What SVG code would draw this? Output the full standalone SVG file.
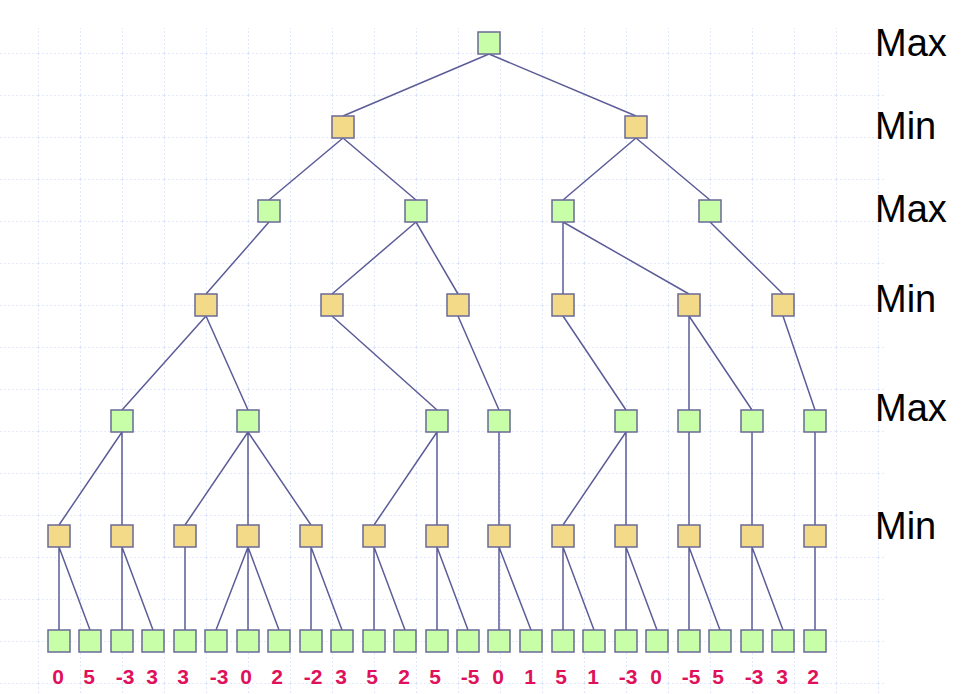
<svg xmlns="http://www.w3.org/2000/svg" width="966" height="694" viewBox="0 0 966 694">
<defs>
<pattern id="grid" x="38" y="11" width="42" height="42" patternUnits="userSpaceOnUse">
<path d="M0 0V42M0 0H42" fill="none" stroke="#cdd8fa" stroke-width="1.2" stroke-dasharray="2 2"/>
</pattern>
</defs>
<style>
.mx{fill:#c8fea8;stroke:#6a6a98;stroke-width:1.5}
.mn{fill:#f3da88;stroke:#6a6a98;stroke-width:1.5}
.e{stroke:#5c5c98;stroke-width:1.5;fill:none}
.lv{font-family:"Liberation Sans",Arial,sans-serif;font-size:38px;fill:#000}
.v{font-family:"Liberation Sans",Arial,sans-serif;font-size:21px;font-weight:bold;fill:#e0105a;text-anchor:middle}
</style>
<rect x="0" y="28" width="886" height="666" fill="url(#grid)"/>
<g id="connectors" class="e">
<path d="M489 54L343 116M489 54L636 116"/>
<path d="M343 138L269 200M343 138L416 200M636 138L563 200M636 138L710 200"/>
<path d="M269 222L206 294M416 222L332 294M416 222L458 294M563 222L563 294M563 222L689 294M710 222L783 294"/>
<path d="M206 316L122 410M206 316L248 410M332 316L437 410M458 316L499 410M563 316L626 410M689 316L689 410M689 316L752 410M783 316L815 410"/>
<path d="M122 432L59 525M122 432L122 525M248 432L185 525M248 432L248 525M248 432L311 525M437 432L374 525M437 432L437 525M499 432L499 525M626 432L563 525M626 432L626 525M689 432L689 525M752 432L752 525M815 432L815 525"/>
<path d="M59 547L59 630M59 547L90 630M122 547L122 630M122 547L153 630M185 547L185 630M248 547L216 630M248 547L248 630M248 547L279 630M311 547L311 630M311 547L342 630M374 547L374 630M374 547L405 630M437 547L437 630M437 547L468 630M499 547L499 630M499 547L531 630M563 547L563 630M563 547L594 630M626 547L626 630M626 547L657 630M689 547L689 630M689 547L720 630M752 547L752 630M752 547L783 630M815 547L815 630"/>
</g>
<g id="root"><rect class="mx" x="478" y="32" width="22" height="22"/></g>
<g id="l2"><rect class="mn" x="332" y="116" width="22" height="22"/><rect class="mn" x="625" y="116" width="22" height="22"/></g>
<g id="l3"><rect class="mx" x="258" y="200" width="22" height="22"/><rect class="mx" x="405" y="200" width="22" height="22"/><rect class="mx" x="552" y="200" width="22" height="22"/><rect class="mx" x="699" y="200" width="22" height="22"/></g>
<g id="l4"><rect class="mn" x="195" y="294" width="22" height="22"/><rect class="mn" x="321" y="294" width="22" height="22"/><rect class="mn" x="447" y="294" width="22" height="22"/><rect class="mn" x="552" y="294" width="22" height="22"/><rect class="mn" x="678" y="294" width="22" height="22"/><rect class="mn" x="772" y="294" width="22" height="22"/></g>
<g id="l5"><rect class="mx" x="111" y="410" width="22" height="22"/><rect class="mx" x="237" y="410" width="22" height="22"/><rect class="mx" x="426" y="410" width="22" height="22"/><rect class="mx" x="488" y="410" width="22" height="22"/><rect class="mx" x="615" y="410" width="22" height="22"/><rect class="mx" x="678" y="410" width="22" height="22"/><rect class="mx" x="741" y="410" width="22" height="22"/><rect class="mx" x="804" y="410" width="22" height="22"/></g>
<g id="l6"><rect class="mn" x="48" y="525" width="22" height="22"/><rect class="mn" x="111" y="525" width="22" height="22"/><rect class="mn" x="174" y="525" width="22" height="22"/><rect class="mn" x="237" y="525" width="22" height="22"/><rect class="mn" x="300" y="525" width="22" height="22"/><rect class="mn" x="363" y="525" width="22" height="22"/><rect class="mn" x="426" y="525" width="22" height="22"/><rect class="mn" x="488" y="525" width="22" height="22"/><rect class="mn" x="552" y="525" width="22" height="22"/><rect class="mn" x="615" y="525" width="22" height="22"/><rect class="mn" x="678" y="525" width="22" height="22"/><rect class="mn" x="741" y="525" width="22" height="22"/><rect class="mn" x="804" y="525" width="22" height="22"/></g>
<g id="leaves">
<rect class="mx" x="48" y="630" width="22" height="22"/><rect class="mx" x="79" y="630" width="22" height="22"/><rect class="mx" x="111" y="630" width="22" height="22"/><rect class="mx" x="142" y="630" width="22" height="22"/><rect class="mx" x="174" y="630" width="22" height="22"/><rect class="mx" x="205" y="630" width="22" height="22"/><rect class="mx" x="237" y="630" width="22" height="22"/><rect class="mx" x="268" y="630" width="22" height="22"/><rect class="mx" x="300" y="630" width="22" height="22"/><rect class="mx" x="331" y="630" width="22" height="22"/><rect class="mx" x="363" y="630" width="22" height="22"/><rect class="mx" x="394" y="630" width="22" height="22"/><rect class="mx" x="426" y="630" width="22" height="22"/><rect class="mx" x="457" y="630" width="22" height="22"/><rect class="mx" x="488" y="630" width="22" height="22"/><rect class="mx" x="520" y="630" width="22" height="22"/><rect class="mx" x="552" y="630" width="22" height="22"/><rect class="mx" x="583" y="630" width="22" height="22"/><rect class="mx" x="615" y="630" width="22" height="22"/><rect class="mx" x="646" y="630" width="22" height="22"/><rect class="mx" x="678" y="630" width="22" height="22"/><rect class="mx" x="709" y="630" width="22" height="22"/><rect class="mx" x="741" y="630" width="22" height="22"/><rect class="mx" x="772" y="630" width="22" height="22"/><rect class="mx" x="804" y="630" width="22" height="22"/>
</g>
<g id="values">
<text class="v" x="58" y="684">0</text><text class="v" x="89" y="684">5</text><text class="v" x="125" y="684">-3</text><text class="v" x="152" y="684">3</text><text class="v" x="183" y="684">3</text><text class="v" x="219" y="684">-3</text><text class="v" x="246" y="684">0</text><text class="v" x="277" y="684">2</text><text class="v" x="313" y="684">-2</text><text class="v" x="341" y="684">3</text><text class="v" x="372" y="684">5</text><text class="v" x="404" y="684">2</text><text class="v" x="435" y="684">5</text><text class="v" x="470" y="684">-5</text><text class="v" x="498" y="684">0</text><text class="v" x="530" y="684">1</text><text class="v" x="561" y="684">5</text><text class="v" x="593" y="684">1</text><text class="v" x="628" y="684">-3</text><text class="v" x="656" y="684">0</text><text class="v" x="691" y="684">-5</text><text class="v" x="718" y="684">5</text><text class="v" x="754" y="684">-3</text><text class="v" x="782" y="684">3</text><text class="v" x="813" y="684">2</text>
</g>
<g id="levels">
<text class="lv" x="875" y="56">Max</text><text class="lv" x="875" y="139">Min</text><text class="lv" x="875" y="222">Max</text><text class="lv" x="875" y="312">Min</text><text class="lv" x="875" y="421">Max</text><text class="lv" x="875" y="539">Min</text>
</g>
</svg>
